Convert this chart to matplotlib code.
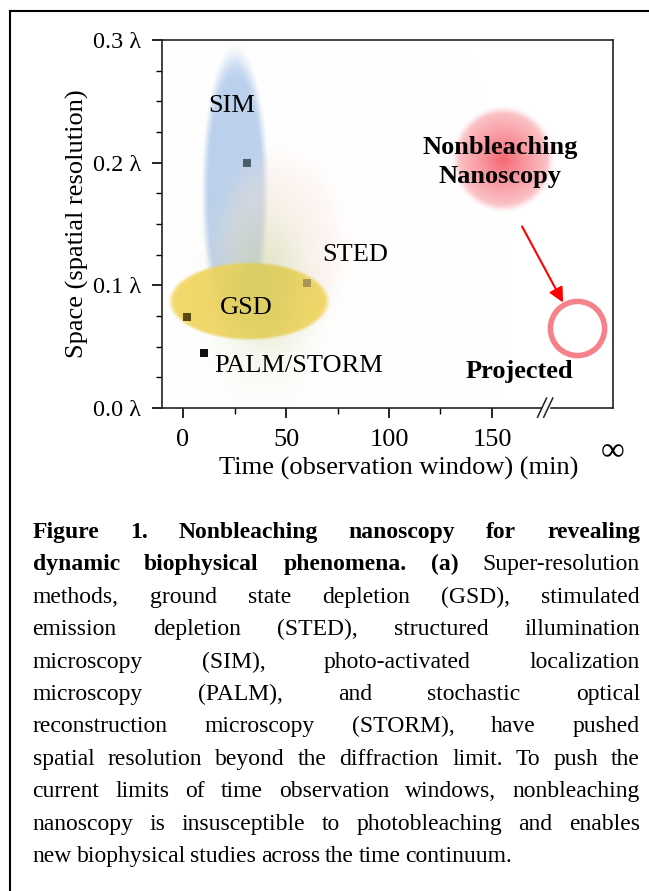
import numpy as np
import matplotlib
matplotlib.use('Agg')
import matplotlib.pyplot as plt
from matplotlib.ticker import FixedLocator, MultipleLocator
from matplotlib.lines import Line2D

plt.rcParams['font.family'] = ['Liberation Serif', 'DejaVu Serif']
plt.rcParams['font.size'] = 19

# ---- data ----
# markers (time in min, space in units of lambda)
methods = ['SIM', 'STED', 'GSD', 'PALM/STORM']
marker_time = [31, 60, 2, 10]
marker_space = [0.200, 0.102, 0.074, 0.045]
label_time = [23.8, 83.5, 30.8, 56.3]
label_space = [0.241, 0.120, 0.077, 0.029]

# soft regions: centre and half-extent of each method
blob_names = ['SIM', 'STED', 'GSD', 'haze', 'Nonbleaching']
blob_time = [25.2, 47.0, 32.0, 39.0, 155.3]
blob_space = [0.176, 0.130, 0.087, 0.100, 0.203]
blob_dt = [15.8, 36.0, 38.8, 32.0, 24.3]
blob_ds = [0.115, 0.088, 0.0317, 0.095, 0.0423]

projected_time = 191.3
projected_space = 0.065
arrow_from = (164.6, 0.148)
arrow_to = (184.5, 0.086)
break_time = 175.8

xticks = [0, 50, 100, 150]
xminor = [25, 75, 125]
yticks = [0.0, 0.1, 0.2, 0.3]
ytick_labels = ['0.0 λ', '0.1 λ', '0.2 λ', '0.3 λ']

caption_lines = [
    [('Figure 1. Nonbleaching nanoscopy for revealing', 'bold')],
    [('dynamic biophysical phenomena. (a)', 'bold'), ('Super-resolution', 'normal')],
    [('methods, ground state depletion (GSD), stimulated', 'normal')],
    [('emission depletion (STED), structured illumination', 'normal')],
    [('microscopy (SIM), photo-activated localization', 'normal')],
    [('microscopy (PALM), and stochastic optical', 'normal')],
    [('reconstruction microscopy (STORM), have pushed', 'normal')],
    [('spatial resolution beyond the diffraction limit. To push the', 'normal')],
    [('current limits of time observation windows, nonbleaching', 'normal')],
    [('nanoscopy is insusceptible to photobleaching and enables', 'normal')],
    [('new biophysical studies across the time continuum.', 'normal')],
]

W, H = 649, 891
fig = plt.figure(figsize=(W / 100, H / 100), dpi=100)
ax = fig.add_axes([162 / W, 1 - 408 / H, 450.5 / W, 368 / H])

x0, x1 = -10.2, 208.5
y0, y1 = 0.0, 0.3

# ---- build the soft colour regions on a grid of data coordinates ----
X, Y = np.meshgrid(np.linspace(x0, x1, 900), np.linspace(y0, y1, 700))
img = np.ones(X.shape + (3,))


def smooth(r, a, b):
    t = np.clip((b - r) / (b - a), 0, 1)
    return t * t * (3 - 2 * t)


def radius(i):
    return np.sqrt(((X - blob_time[i]) / blob_dt[i]) ** 2 +
                   ((Y - blob_space[i]) / blob_ds[i]) ** 2)


def paint(img, color, alpha):
    c = np.asarray(color, dtype=float)
    if c.ndim == 1:
        c = c[None, None, :]
    return img * (1 - alpha[..., None]) + c * alpha[..., None]


r = radius(0)
img = paint(img, (0.72, 0.81, 0.925), 0.95 * smooth(r, 0.8, 1.08))
r = radius(1)
img = paint(img, (0.99, 0.90, 0.88), 0.38 * smooth(r, 0.55, 1.05))
r = radius(2)
img = paint(img, (0.95, 0.835, 0.37), 0.92 * smooth(r, 0.93, 1.03))
r = radius(3)
img = paint(img, (0.60, 0.72, 0.32), 0.27 * np.exp(-2.6 * r ** 2))
r = radius(4)
t = np.clip(r, 0, 1)[..., None] ** 0.9
center_c = np.array([0.96, 0.40, 0.45])
edge_c = np.array([0.985, 0.80, 0.81])
img = paint(img, center_c + (edge_c - center_c) * t, smooth(r, 0.85, 1.05))

ax.imshow(img, extent=(x0, x1, y0, y1), origin='lower', aspect='auto',
          interpolation='bilinear', zorder=0)

# ---- markers and labels ----
marker_colors = ['#4d5b6b', '#a89858', '#5a4812', '#111111']
ax.scatter(marker_time, marker_space, marker='s', s=32, c=marker_colors,
           linewidths=0, zorder=3)
for name, tx, sy in zip(methods, label_time, label_space):
    ax.text(tx, sy, name, ha='center', va='baseline', fontsize=19, zorder=4)

ax.text(blob_time[4] - 1.4, 0.2073, 'Nonbleaching', ha='center', va='baseline',
        fontsize=19, fontweight='bold', zorder=4)
ax.text(blob_time[4] - 1.4, 0.1837, 'Nanoscopy', ha='center', va='baseline',
        fontsize=19, fontweight='bold', zorder=4)
ax.text(163.1, 0.0244, 'Projected', ha='center', va='baseline',
        fontsize=19, fontweight='bold', zorder=4)

ax.plot([projected_time], [projected_space], marker='o', ms=39,
        mfc='none', mec='#f5828a', mew=4.0, zorder=3)
ax.annotate('', xy=arrow_to, xytext=arrow_from,
            arrowprops=dict(arrowstyle='-|>', color='red', lw=1.5,
                            mutation_scale=22, shrinkA=0, shrinkB=0),
            zorder=4)

# ---- axes ----
ax.set_xlim(x0, x1)
ax.set_ylim(y0, y1)
ax.set_xticks(xticks)
ax.xaxis.set_minor_locator(FixedLocator(xminor))
ax.set_yticks(yticks)
ax.set_yticklabels(ytick_labels)
ax.yaxis.set_minor_locator(MultipleLocator(0.025))
ax.tick_params(which='major', length=7, width=1.2, direction='out', pad=8,
               labelsize=19)
ax.tick_params(axis='y', which='major', labelsize=17.5, pad=8)
ax.tick_params(which='minor', length=4, width=1.0, direction='out')
for s in ax.spines.values():
    s.set_linewidth(1.2)
    s.set_color('#222222')

ax.set_xlabel('Time (observation window) (min)', fontsize=19)
ax.xaxis.label.set_va('baseline')
ax.xaxis.set_label_coords(0.525, -0.182)
ax.set_ylabel('Space (spatial resolution)', fontsize=19)
ax.yaxis.set_label_coords(-0.162, 0.5)
ax.text(1.0, -0.118, '∞', transform=ax.transAxes, ha='center', va='center',
        fontsize=24)

# axis break on the time axis
bx = ax.get_xaxis_transform()
ax.plot([break_time - 1.2, break_time + 1.2], [0, 0], color='white', lw=2.5,
        transform=bx, clip_on=False, zorder=5)
for dx in (-1.5, 1.5):
    ax.plot([break_time + dx - 2.2, break_time + dx + 2.2], [-0.025, 0.027],
            color='#222222', lw=1.1, transform=bx, clip_on=False, zorder=6)

# ---- figure frame (left and top edges) ----
fig.add_artist(Line2D([9.5 / W, 9.5 / W], [0, 1 - 11 / H], color='black', lw=1.5))
fig.add_artist(Line2D([9.5 / W, 1], [1 - 11 / H, 1 - 11 / H], color='black', lw=1.5))

# ---- justified caption ----
left_px, right_px = 32.5, 640.0
avail = right_px - left_px
renderer = fig.canvas.get_renderer()


def word_list(line):
    return [(w, wt) for seg, wt in line for w in seg.split()]


def measure(words, fs):
    widths = []
    for w, wt in words:
        t = fig.text(0, 0, w, fontsize=fs, fontweight=wt)
        widths.append(t.get_window_extent(renderer).width)
        t.remove()
    return widths


cap_fs = 17.0
natural = []
for line in caption_lines[:-1]:
    words = word_list(line)
    ws = measure(words, cap_fs)
    natural.append(sum(ws) + 0.12 * cap_fs * 100 / 72 * (len(ws) - 1))
if max(natural) > avail:
    cap_fs *= avail / max(natural)

for i, line in enumerate(caption_lines):
    words = word_list(line)
    ws = measure(words, cap_fs)
    if i < len(caption_lines) - 1:
        gap = (avail - sum(ws)) / (len(ws) - 1)
    else:
        gap = 0.2 * cap_fs * 100 / 72
    y = 1 - (538 + 32.4 * i) / H
    x = left_px
    for (w, wt), wd in zip(words, ws):
        fig.text(x / W, y, w, fontsize=cap_fs, fontweight=wt, va='baseline')
        x += wd + gap

fig.savefig('out.png', dpi=100)
